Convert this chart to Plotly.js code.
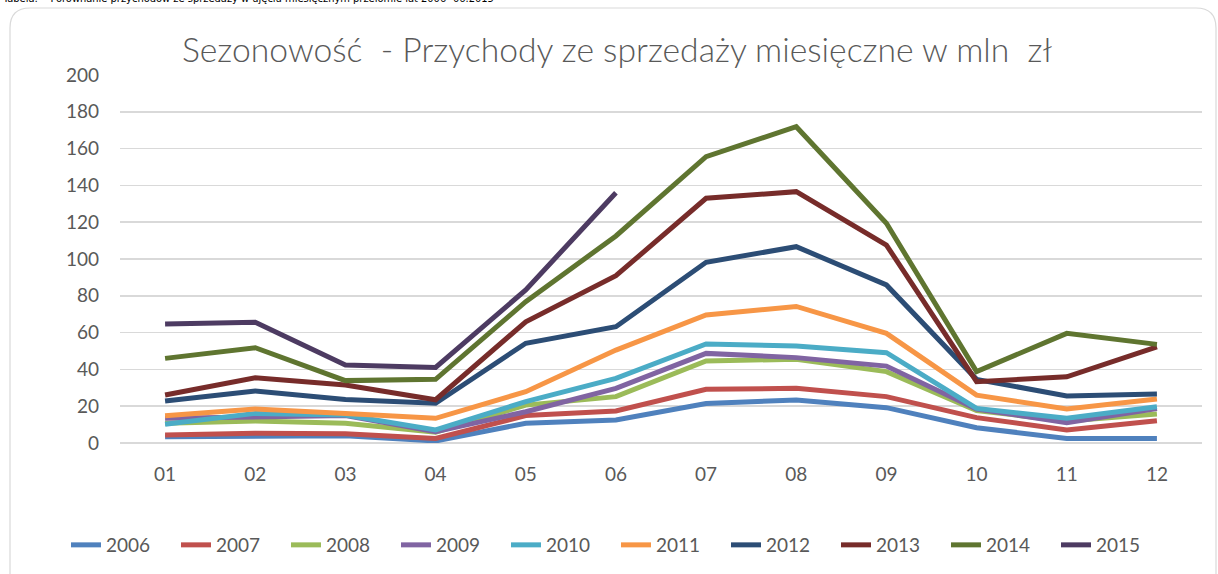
<!DOCTYPE html>
<html>
<head>
<meta charset="utf-8">
<script src="https://cdn.plot.ly/plotly-3.0.1.min.js"></script>
<style>html,body{margin:0;padding:0;background:#fff;}#chart{width:1218px;height:574px;}</style>
</head>
<body>
<div id="chart"></div>
<script>
const months = ['01','02','03','04','05','06','07','08','09','10','11','12'];
const seriesNames = ['2006','2007','2008','2009','2010','2011','2012','2013','2014','2015'];
const y2006 = [3.4, 3.8, 4.0, 1.1, 10.7, 12.5, 21.5, 23.4, 19.2, 8.3, 2.5, 2.5];
const y2007 = [4.3, 5.3, 5.0, 2.5, 14.9, 17.4, 29.2, 29.7, 25.2, 13.8, 7.1, 12.1];
const y2008 = [10.7, 12.0, 10.7, 5.8, 20.6, 25.2, 44.6, 45.5, 38.8, 17.6, 12.0, 15.8];
const y2009 = [13.4, 14.3, 14.9, 6.2, 17.0, 29.7, 48.7, 46.4, 41.8, 18.5, 11.0, 18.8];
const y2010 = [10.2, 16.1, 15.2, 7.1, 22.5, 35.1, 53.8, 52.7, 49.1, 18.8, 13.4, 19.7];
const y2011 = [14.8, 18.5, 16.1, 13.4, 27.9, 50.5, 69.6, 74.2, 59.6, 26.0, 18.5, 23.9];
const y2012 = [22.8, 28.3, 23.7, 21.6, 54.2, 63.2, 98.2, 106.7, 85.9, 34.6, 25.5, 26.6];
const y2013 = [26.1, 35.5, 31.5, 23.5, 65.9, 90.9, 133.0, 136.6, 107.6, 33.3, 36.0, 52.3];
const y2014 = [46.0, 51.8, 33.9, 34.6, 76.8, 112.5, 155.6, 171.9, 119.4, 38.8, 59.6, 53.6];
const y2015 = [64.7, 65.6, 42.4, 41.1, 83.2, 136.0];
const colors = ['#4F81BD','#C0504D','#9BBB59','#8064A2','#4BACC6','#F79646','#2C4D75','#772C2A','#5F7530','#4D3B62'];
const titleText = 'Sezonowość  - Przychody ze sprzedaży miesięczne w mln  zł';
const captionText = 'Tabela:    Porównanie przychodów ze sprzedaży w ujęciu miesięcznym przełomie lat 2006- 06.2015';

const allY = [y2006,y2007,y2008,y2009,y2010,y2011,y2012,y2013,y2014,y2015];
const traces = allY.map((ys, i) => ({
  type: 'scatter', mode: 'lines',
  x: months.slice(0, ys.length), y: ys,
  name: seriesNames[i],
  line: {color: colors[i], width: 5},
  hoverinfo: 'skip'
}));

const W = 1218, H = 574, L = 120, R = 16, T = 75, B = 131;
const pw = W - L - R, ph = H - T - B;
const px = v => (v - L) / pw;
const py = v => (H - B - v) / ph;
const x0 = px(10), x1 = px(1216), yTop = py(8), yBot = py(600);
const rx = 20 / pw, ry = 20 / ph;
const border = `M ${x0} ${yBot} L ${x0} ${yTop - ry} Q ${x0} ${yTop} ${x0 + rx} ${yTop} L ${x1 - rx} ${yTop} Q ${x1} ${yTop} ${x1} ${yTop - ry} L ${x1} ${yBot}`;

const fontFam = 'Lato, "Open Sans", sans-serif';
const layout = {
  width: W, height: H,
  margin: {l: L, r: R, t: T, b: B, autoexpand: false},
  paper_bgcolor: '#ffffff', plot_bgcolor: '#ffffff',
  showlegend: true,
  title: {text: titleText, font: {family: fontFam, size: 33.7, weight: 300, color: '#595959'}, x: 617/1218, xanchor: 'center', xref: 'container', y: 1 - 50/574, yanchor: 'middle', yref: 'container'},
  xaxis: {type: 'category', range: [-0.5, 11.5], showgrid: false, zeroline: false, showline: false, ticks: '',
    tickfont: {family: fontFam, size: 19, color: '#595959'}, ticklabelstandoff: 18, fixedrange: true},
  yaxis: {range: [0, 200], dtick: 20, tick0: 0, showgrid: true, gridcolor: '#d9d9d9', gridwidth: 1.5,
    zeroline: true, zerolinecolor: '#d9d9d9', zerolinewidth: 1.5, showline: false, ticks: '',
    tickfont: {family: fontFam, size: 19, color: '#595959'}, ticklabelstandoff: 20, fixedrange: true},
  legend: {orientation: 'h', xref: 'paper', x: px(66), xanchor: 'left', yref: 'paper', y: py(545), yanchor: 'middle',
    font: {family: fontFam, size: 19, color: '#595959'}, itemwidth: 30, entrywidth: 65, entrywidthmode: 'pixels',
    tracegroupgap: 0, bgcolor: 'rgba(0,0,0,0)'},
  shapes: [{type: 'path', xref: 'paper', yref: 'paper', path: border, line: {color: '#d9d9d9', width: 1.2}, layer: 'below'}],
  annotations: [{text: captionText, xref: 'paper', yref: 'paper', x: px(0), y: py(-1), xanchor: 'left', yanchor: 'middle',
    showarrow: false, font: {family: '"Liberation Sans Narrow", "DejaVu Sans Condensed", sans-serif', size: 11, color: '#000000'}}]
};
Plotly.newPlot('chart', traces, layout, {displayModeBar: false, staticPlot: true});
</script>
</body>
</html>
